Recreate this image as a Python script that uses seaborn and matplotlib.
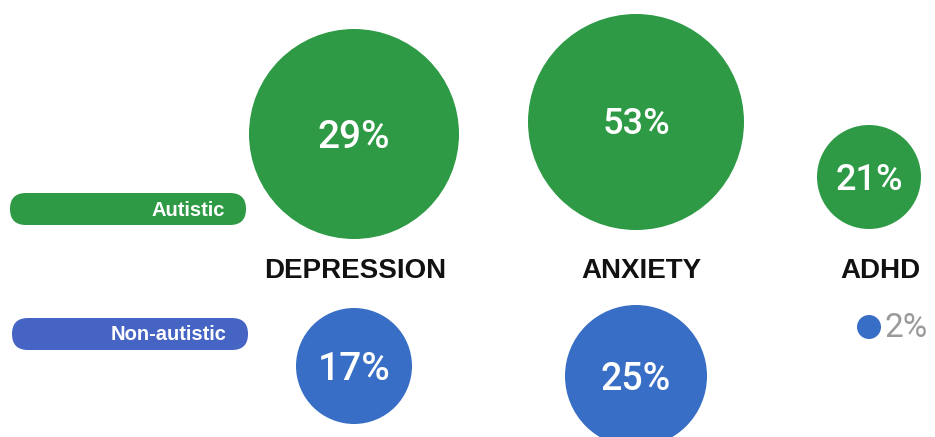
import matplotlib
matplotlib.use("Agg")
import matplotlib.pyplot as plt
from matplotlib.patches import FancyBboxPatch
import seaborn as sns
import pandas as pd

# ---- data ----
conditions = ["DEPRESSION", "ANXIETY", "ADHD"]
autistic = [29, 53, 21]
non_autistic = [17, 25, 2]
groups = ["Autistic", "Non-autistic"]

# ---- layout / style (pixel space) ----
W, H, DPI = 935, 437, 100
col_x = [354, 636, 869]
aut_y = [134, 122, 177]
non_y = [366, 376, 327]
aut_r = [105, 108, 52]
non_r = [58, 71, 12]
aut_fs = [28, 26, 26]
non_fs = [28, 27, 24]
label_x = [355, 641, 880]
GREEN = "#2e9a45"
BLUE = "#386ec5"
PILL_BLUE = "#4564c4"

sns.set_theme(style="white")
plt.rcParams["font.family"] = ["Roboto", "DejaVu Sans"]

rows = []
for i, c in enumerate(conditions):
    rows.append(dict(condition=c, group=groups[0], value=autistic[i], fs=aut_fs[i],
                     x=col_x[i], y=aut_y[i], area=(2 * aut_r[i] * 72 / DPI) ** 2))
    rows.append(dict(condition=c, group=groups[1], value=non_autistic[i], fs=non_fs[i],
                     x=col_x[i], y=non_y[i], area=(2 * non_r[i] * 72 / DPI) ** 2))
df = pd.DataFrame(rows)

fig = plt.figure(figsize=(W / DPI, H / DPI), dpi=DPI)
ax = fig.add_axes([0, 0, 1, 1])
ax.set_xlim(0, W)
ax.set_ylim(H, 0)
ax.axis("off")

sns.scatterplot(data=df, x="x", y="y", hue="group", size="area",
                sizes=(df["area"].min(), df["area"].max()),
                palette={groups[0]: GREEN, groups[1]: BLUE},
                linewidth=0, legend=False, ax=ax, zorder=2)

# value labels
for _, r in df.iterrows():
    if r["value"] >= 5:
        ax.text(r["x"], r["y"] + 3, f"{r['value']}%", color="white",
                fontsize=r["fs"], fontweight="medium", ha="center", va="center", zorder=3)
    else:
        ax.text(r["x"] + 15, r["y"] + 1, f"{r['value']}%", color="#9a9a9a",
                fontsize=r["fs"], ha="left", va="center", zorder=3)

# condition labels
for i, c in enumerate(conditions):
    ax.text(label_x[i], 271, c, color="#111111",
            fontsize=20, fontweight="bold", family=["Liberation Sans", "DejaVu Sans"],
            ha="center", va="center")

# legend pills
for (x0, y0, y1, col, label) in [(10, 193, 225, GREEN, groups[0]),
                                  (12, 318, 350, PILL_BLUE, groups[1])]:
    h = y1 - y0
    pill = FancyBboxPatch((x0, y0), 236, h,
                          boxstyle=f"round,pad=0,rounding_size={h/2}",
                          facecolor=col, edgecolor="none", zorder=1)
    ax.add_patch(pill)
    ax.text(x0 + 215, (y0 + y1) / 2 + 1, label, color="white", fontsize=14.5,
            fontweight="bold", family=["Liberation Sans", "DejaVu Sans"],
            ha="right", va="center")

fig.savefig("out.png", dpi=DPI)
